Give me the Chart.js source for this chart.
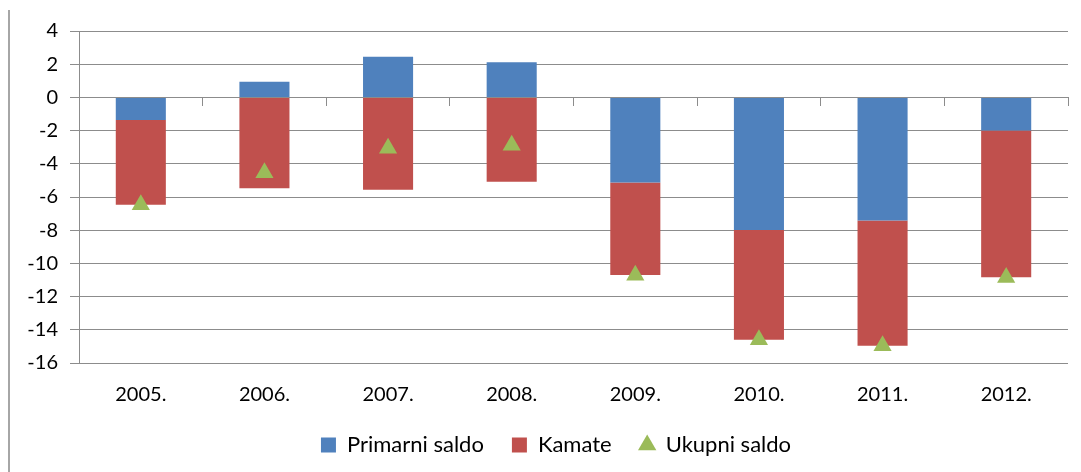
<!DOCTYPE html>
<html>
<head>
<meta charset="utf-8">
<script src="https://cdn.jsdelivr.net/npm/chart.js@4"></script>
<style>
  html, body { margin: 0; padding: 0; background: #fff; }
  #wrap { position: relative; width: 1081px; height: 472px; }
  #frame { position: absolute; left: 8px; top: 10px; bottom: 0; border-left: 2px solid #a6a6a6; }
  canvas { position: absolute; left: 0; top: 0; }
</style>
</head>
<body>
<div id="wrap">
  <div id="frame"></div>
  <canvas id="saldoChart" width="1081" height="472"></canvas>
</div>
<script>
// ════════════════════════════════════════════════════════
// DATA
// ════════════════════════════════════════════════════════
const years = ['2005.', '2006.', '2007.', '2008.', '2009.', '2010.', '2011.', '2012.'];
const primarniSaldo = [-1.36, 0.95, 2.45, 2.11, -5.12, -7.99, -7.41, -1.99];
const kamate = [-5.10, -5.48, -5.56, -5.08, -5.58, -6.61, -7.55, -8.85];
const ukupniSaldo = [-6.46, -4.54, -3.07, -2.88, -10.72, -14.60, -14.96, -10.85];
const yTicks = [4, 2, 0, -2, -4, -6, -8, -10, -12, -14, -16];

// ════════════════════════════════════════════════════════
// CHART
// ════════════════════════════════════════════════════════
const gridColor = '#8c8c8c';
const textColor = '#000';
const tickFont = { family: 'Lato', size: 20 };
const legendFont = { family: 'Lato', size: 22 };

// legend in the original sits a bit right of the canvas centre
const legendShift = {
  id: 'legendShift',
  afterLayout(chart) {
    if (!chart.legend) return;
    chart.legend.left += 22;
    chart.legend.right += 22;
  }
};

new Chart(document.getElementById('saldoChart'), {
  type: 'bar',
  data: {
    labels: years,
    datasets: [
      { label: 'Primarni saldo', data: primarniSaldo, backgroundColor: '#4F81BD', pointStyle: 'rect', xAxisID: 'x', barPercentage: 0.405, categoryPercentage: 1 },
      { label: 'Kamate', data: kamate, backgroundColor: '#C0504D', pointStyle: 'rect', xAxisID: 'x', barPercentage: 0.405, categoryPercentage: 1 },
      { type: 'line', label: 'Ukupni saldo', data: ukupniSaldo, xAxisID: 'x', showLine: false, order: -1,
        pointStyle: 'triangle', pointRadius: 10.5, pointHoverRadius: 10.5, pointBorderWidth: 0,
        backgroundColor: '#9BBB59', borderColor: '#9BBB59' }
    ]
  },
  plugins: [legendShift],
  options: {
    responsive: false,
    animation: false,
    layout: { padding: { top: 31, right: 13, left: 0, bottom: 6 } },
    plugins: {
      tooltip: { enabled: false },
      legend: {
        position: 'bottom',
        labels: {
          usePointStyle: true, boxWidth: 15, boxHeight: 15, padding: 28,
          color: textColor, font: legendFont,
          sort: (a, b) => a.datasetIndex - b.datasetIndex
        }
      }
    },
    scales: {
      x: {
        stacked: true,
        grid: { display: false },
        border: { display: false },
        ticks: { color: textColor, font: tickFont, padding: 12 },
        afterFit: s => { s.height = 43; }
      },
      // category axis crossing at zero, only for its tick marks
      x0: {
        type: 'category',
        position: { y: 0 },
        offset: true,
        grid: { drawOnChartArea: false, drawTicks: true, tickLength: 8, color: gridColor, offset: true },
        border: { display: true, color: gridColor },
        ticks: { display: false }
      },
      y: {
        stacked: true,
        min: -16, max: 4,
        afterBuildTicks: s => { s.ticks = yTicks.map(v => ({ value: v })); },
        grid: { color: gridColor, tickLength: 9 },
        border: { color: gridColor },
        ticks: { color: textColor, font: tickFont, padding: 12 },
        afterFit: s => { s.width = 79; }
      }
    }
  }
});
</script>
</body>
</html>
